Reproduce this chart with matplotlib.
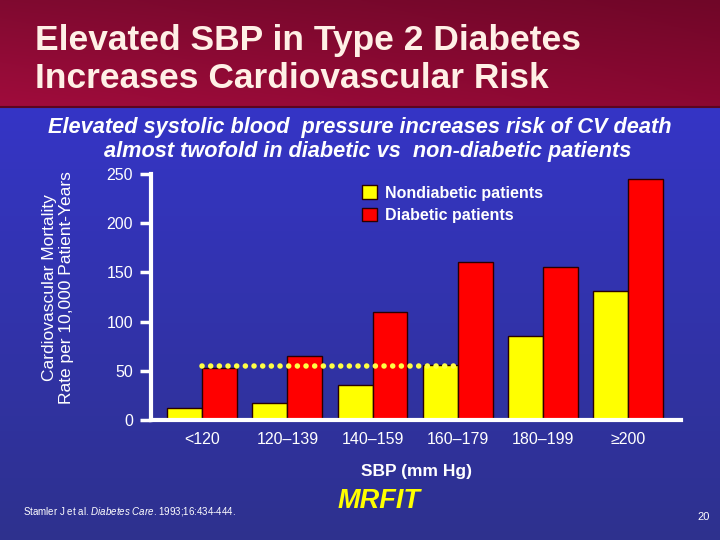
import matplotlib
matplotlib.use("Agg")
import matplotlib.pyplot as plt
import numpy as np

# data
categories = ["<120", "120\u2013139", "140\u2013159", "160\u2013179", "180\u2013199", "\u2265200"]
nondiabetic = [12, 17, 36, 56, 85, 131]
diabetic = [53, 65, 110, 161, 155, 245]
ref_level = 55          # dotted reference line
ref_span = [0, 3]       # from group <120 to group 160-179

plt.rcParams['font.family'] = ['Liberation Sans', 'DejaVu Sans']
plt.rcParams['mathtext.fontset'] = 'custom'
plt.rcParams['mathtext.rm'] = 'Liberation Sans'
plt.rcParams['mathtext.it'] = 'Liberation Sans:italic'

fig = plt.figure(figsize=(7.2, 5.4), dpi=100)

# background: maroon title band over blue gradient
bg = fig.add_axes([0, 0, 1, 1])
bg.set_xlim(0, 720)
bg.set_ylim(540, 0)
bg.axis('off')
t = np.linspace(0, 1, 256)[:, None]
top_c = np.array([0x35, 0x35, 0xc6]) / 255
bot_c = np.array([0x2e, 0x31, 0x8e]) / 255
blue = top_c + (bot_c - top_c) * t
bg.imshow(np.repeat(blue[:, None, :], 2, axis=1), extent=[0, 720, 540, 107],
          aspect='auto', interpolation='bicubic')
s = np.linspace(0, 1, 256)[None, :, None]
left_c = np.array([0xa0, 0x0c, 0x3c]) / 255
right_c = np.array([0x8c, 0x08, 0x32]) / 255
band = left_c + (right_c - left_c) * s
v = np.linspace(0.8, 1.0, 64)[:, None, None]
band = np.clip(band * v, 0, 1)
bg.imshow(band, extent=[0, 720, 107, 0], aspect='auto', interpolation='bicubic')
bg.plot([0, 720], [107, 107], color='#5a0620', lw=1.5)

title_col = '#fff0e6'
fig.text(35 / 720, 1 - 50 / 540, "Elevated SBP in Type 2 Diabetes", color=title_col,
         fontsize=25.5, fontweight='bold', va='baseline', ha='left')
fig.text(35 / 720, 1 - 88 / 540, "Increases Cardiovascular Risk", color=title_col,
         fontsize=25.5, fontweight='bold', va='baseline', ha='left')

fig.text(360 / 720, 1 - 133 / 540, "Elevated systolic blood  pressure increases risk of CV death",
         color='white', fontsize=15.7, fontweight='bold', fontstyle='italic', ha='center', va='baseline')
fig.text(368 / 720, 1 - 157 / 540, "almost twofold in diabetic vs  non-diabetic patients",
         color='white', fontsize=15.7, fontweight='bold', fontstyle='italic', ha='center', va='baseline')

# chart
ax = fig.add_axes([151 / 720, 1 - 420 / 540, 530 / 720, 246 / 540])
ax.patch.set_alpha(0)
x = np.arange(len(categories))
w = 0.41
ax.bar(x - w / 2, nondiabetic, w, color='#ffff00', edgecolor='#2a0000', lw=1,
       label='Nondiabetic patients', zorder=2)
ax.bar(x + w / 2, diabetic, w, color='#ff0000', edgecolor='#2a0000', lw=1,
       label='Diabetic patients', zorder=2)
ax.plot(ref_span, [ref_level, ref_level], color='#ffff44', lw=4,
        linestyle=(0, (0.01, 1.55)), dash_capstyle='round', zorder=3)

ax.set_xlim(-0.6, 5.62)
ax.set_ylim(0, 250)
ax.set_yticks([0, 50, 100, 150, 200, 250])
ax.set_xticks(x)
ax.set_xticklabels(categories)
for sp in ['top', 'right']:
    ax.spines[sp].set_visible(False)
for sp in ['left', 'bottom']:
    ax.spines[sp].set_color('white')
    ax.spines[sp].set_linewidth(3)
ax.tick_params(axis='y', colors='white', direction='out', length=8, width=2.5,
               labelsize=11.5, pad=5)
ax.tick_params(axis='x', colors='white', length=0, labelsize=11.5, pad=9)
ax.set_xlabel("SBP (mm Hg)", color='white', fontsize=12.5, fontweight='bold', labelpad=12)

fig.text(58 / 720, 1 - 288 / 540, "Cardiovascular Mortality\nRate per 10,000 Patient-Years",
         color='white', fontsize=12.5, rotation=90,
         ha='center', va='center', linespacing=1.1)

leg = ax.legend(loc='upper left', bbox_to_anchor=(348 / 720, 1 - 171 / 540),
                bbox_transform=fig.transFigure, frameon=False, handlelength=0.9,
                handleheight=0.9, handletextpad=0.5, labelspacing=0.45,
                prop={'size': 11.5, 'weight': 'bold'}, labelcolor='white')

fig.text(23 / 720, 1 - 515 / 540, "Stamler J et al. $\\mathit{Diabetes\\ Care}$. 1993;16:434-444.",
         color='white', fontsize=7, va='baseline')
fig.text(379 / 720, 1 - 508 / 540, "MRFIT", color='#ffff00', fontsize=19.5,
         fontweight='bold', fontstyle='italic', ha='center', va='baseline')
fig.text(697 / 720, 1 - 520 / 540, "20", color='white', fontsize=8, va='baseline')

fig.savefig("out.png", dpi=100)
